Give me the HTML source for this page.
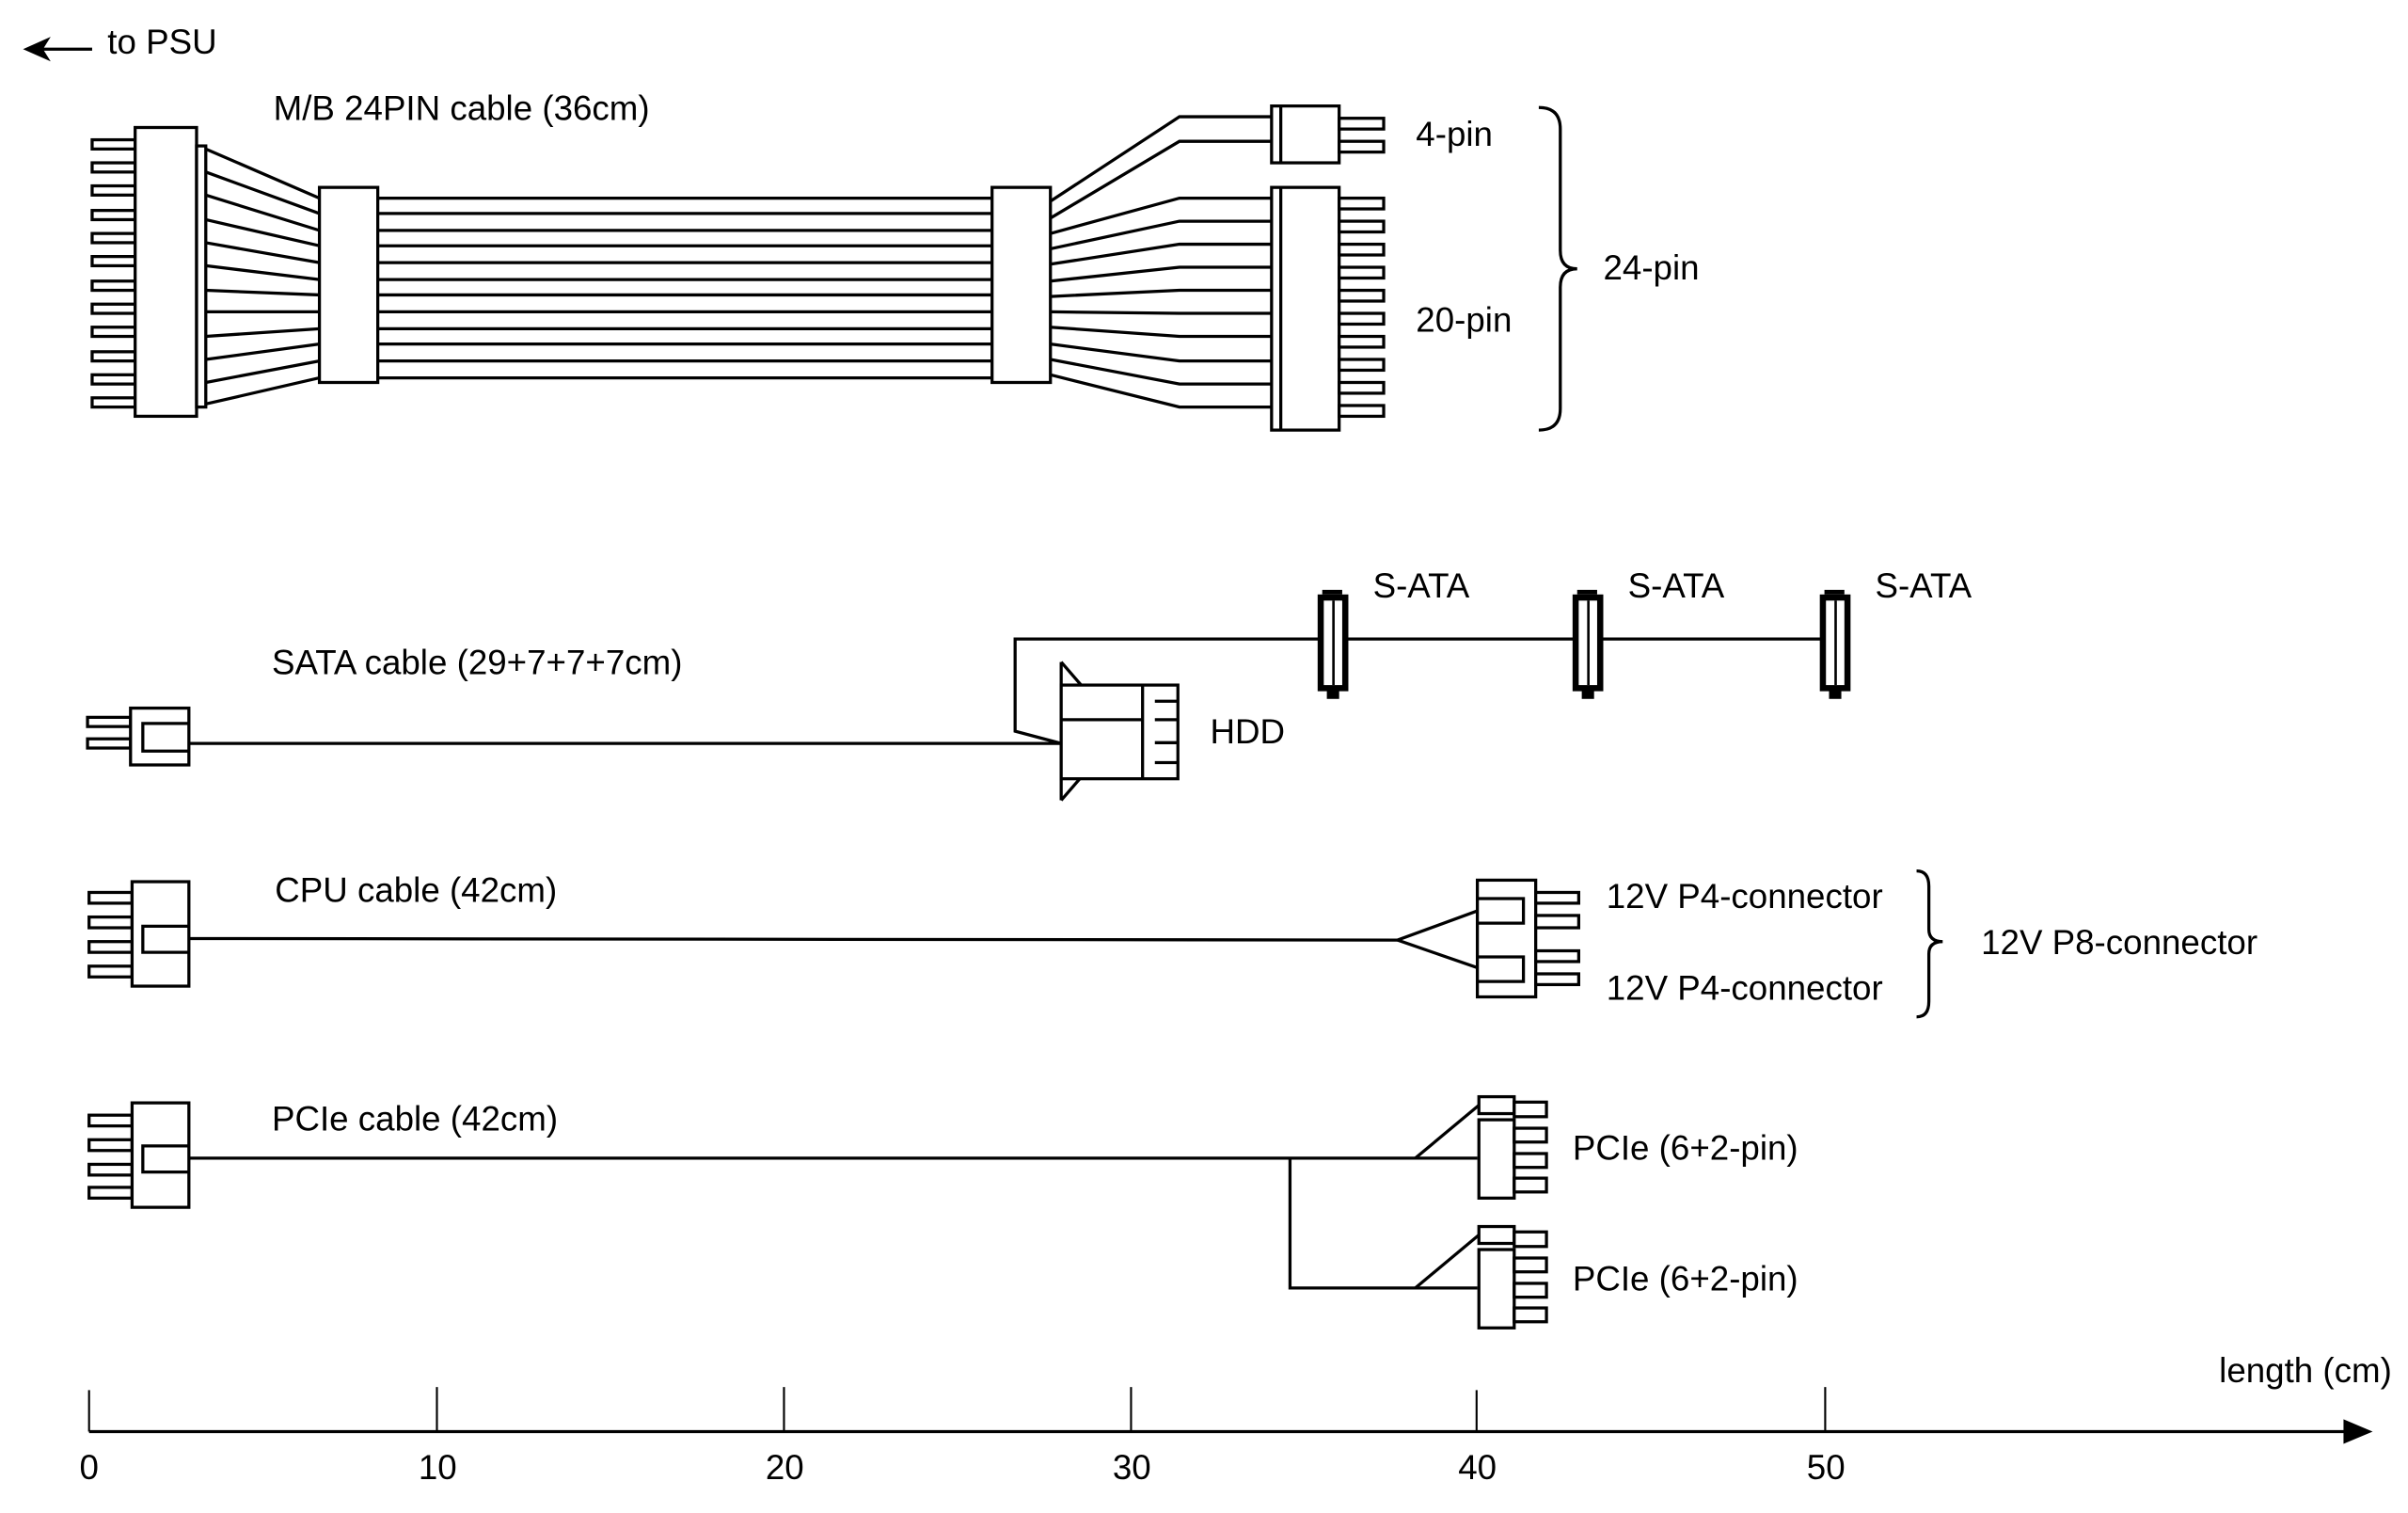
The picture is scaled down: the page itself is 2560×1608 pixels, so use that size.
<!DOCTYPE html>
<html><head><meta charset="utf-8"><style>
html,body{margin:0;padding:0;background:#fff;}
svg{display:block;}
text{font-family:"Liberation Sans",Arial,sans-serif;font-size:22.5px;fill:#000;}
</style></head><body>
<svg width="2560" height="1608" viewBox="0 0 1568 985" preserveAspectRatio="none" xmlns="http://www.w3.org/2000/svg">
<rect width="1568" height="985" fill="#fff"/>
<g stroke="#000" stroke-width="2" fill="#fff" stroke-linecap="butt">

<line x1="22" y1="32" x2="60" y2="32"/>
<polygon points="15,32 33,24 28,32 33,40" fill="#000" stroke="none"/>

<g id="pinsL">
<rect x="60" y="91" width="28" height="6"/><rect x="60" y="106" width="28" height="6"/><rect x="60" y="121" width="28" height="6"/><rect x="60" y="137" width="28" height="6"/><rect x="60" y="152" width="28" height="6"/><rect x="60" y="167" width="28" height="6"/><rect x="60" y="183" width="28" height="6"/><rect x="60" y="198" width="28" height="6"/><rect x="60" y="213" width="28" height="6"/><rect x="60" y="229" width="28" height="6"/><rect x="60" y="244" width="28" height="6"/><rect x="60" y="259" width="28" height="6"/>
</g>
<rect x="88" y="83" width="40" height="188"/>
<rect x="128" y="95" width="6" height="170"/>
<line x1="134" y1="97" x2="208" y2="129"/>
<line x1="134" y1="112" x2="208" y2="139"/>
<line x1="134" y1="127" x2="208" y2="150"/>
<line x1="134" y1="143" x2="208" y2="160"/>
<line x1="134" y1="158" x2="208" y2="171"/>
<line x1="134" y1="173" x2="208" y2="182"/>
<line x1="134" y1="189" x2="208" y2="192"/>
<line x1="134" y1="203" x2="208" y2="203"/>
<line x1="134" y1="219" x2="208" y2="214"/>
<line x1="134" y1="234" x2="208" y2="224"/>
<line x1="134" y1="249" x2="208" y2="235"/>
<line x1="134" y1="263" x2="208" y2="246"/>
<line x1="246" y1="129" x2="646" y2="129"/>
<line x1="246" y1="139" x2="646" y2="139"/>
<line x1="246" y1="150" x2="646" y2="150"/>
<line x1="246" y1="160" x2="646" y2="160"/>
<line x1="246" y1="171" x2="646" y2="171"/>
<line x1="246" y1="182" x2="646" y2="182"/>
<line x1="246" y1="192" x2="646" y2="192"/>
<line x1="246" y1="203" x2="646" y2="203"/>
<line x1="246" y1="214" x2="646" y2="214"/>
<line x1="246" y1="224" x2="646" y2="224"/>
<line x1="246" y1="235" x2="646" y2="235"/>
<line x1="246" y1="246" x2="646" y2="246"/>
<rect x="208" y="122" width="38" height="127"/>
<rect x="646" y="122" width="38" height="127"/>
<polyline fill="none" points="684,131 768,76 828,76"/>
<polyline fill="none" points="684,142 768,92 828,92"/>
<polyline fill="none" points="684,152 768,129 828,129"/>
<polyline fill="none" points="684,162 768,144 828,144"/>
<polyline fill="none" points="684,172 768,159 828,159"/>
<polyline fill="none" points="684,183 768,174 828,174"/>
<polyline fill="none" points="684,193 768,189 828,189"/>
<polyline fill="none" points="684,203 768,204 828,204"/>
<polyline fill="none" points="684,213 768,219 828,219"/>
<polyline fill="none" points="684,224 768,235 828,235"/>
<polyline fill="none" points="684,234 768,250 828,250"/>
<polyline fill="none" points="684,244 768,265 828,265"/>
<rect x="828" y="69" width="44" height="37"/>
<line x1="834" y1="69" x2="834" y2="106"/>
<rect x="872" y="77" width="29" height="7"/><rect x="872" y="92" width="29" height="7"/>
<rect x="828" y="122" width="44" height="158"/>
<line x1="834" y1="122" x2="834" y2="280"/>
<rect x="872" y="129" width="29" height="7"/><rect x="872" y="144" width="29" height="7"/><rect x="872" y="159" width="29" height="7"/><rect x="872" y="174" width="29" height="7"/><rect x="872" y="189" width="29" height="7"/><rect x="872" y="204" width="29" height="7"/><rect x="872" y="219" width="29" height="7"/><rect x="872" y="234" width="29" height="7"/><rect x="872" y="249" width="29" height="7"/><rect x="872" y="264" width="29" height="7"/>
<path fill="none" d="M1002,70 Q1016,70 1016,84 L1016,163 Q1016,175 1027,175 Q1016,175 1016,187 L1016,266 Q1016,280 1002,280"/>

<rect x="57" y="467" width="28" height="6"/><rect x="57" y="481" width="28" height="6"/>
<rect x="85" y="461" width="38" height="37"/>
<polyline fill="none" points="123,471 93,471 93,489 123,489"/>
<line x1="123" y1="484" x2="691" y2="484"/>
<polyline fill="none" points="691,484 661,476 661,416 1190,416"/>
<line x1="691" y1="431" x2="691" y2="521"/>
<polyline fill="none" points="691,431 704,446"/>
<polyline fill="none" points="691,521 704,506"/>
<rect x="691" y="446" width="76" height="61"/>
<line x1="744" y1="446" x2="744" y2="507"/>
<line x1="691" y1="468.5" x2="744" y2="468.5"/>
<line x1="752" y1="456.5" x2="767" y2="456.5"/>
<line x1="752" y1="468.5" x2="767" y2="468.5"/>
<line x1="752" y1="483.5" x2="767" y2="483.5"/>
<line x1="752" y1="496.5" x2="767" y2="496.5"/>
</g>

<g fill="#000" stroke="none">
<g id="sc1">
<rect x="861" y="384" width="13" height="3"/>
<rect x="858" y="387" width="20" height="63"/>
<rect x="864" y="449" width="8" height="6"/>
<rect x="862" y="391" width="12" height="55" fill="#fff"/>
<rect x="867.5" y="391" width="1.6" height="55"/>
</g>
<use href="#sc1" x="166"/>
<use href="#sc1" x="327"/>
</g>

<g stroke="#000" stroke-width="2" fill="#fff">
<rect x="58" y="581" width="28" height="7"/><rect x="58" y="597" width="28" height="7"/><rect x="58" y="613" width="28" height="7"/><rect x="58" y="629" width="28" height="7"/>
<rect x="86" y="574" width="37" height="68"/>
<polyline fill="none" points="123,603 93,603 93,620 123,620"/>
<line x1="123" y1="611" x2="910" y2="612"/>
<polyline fill="none" points="962,593 910,612 962,630"/>
<rect x="962" y="573" width="38" height="76"/>
<polyline fill="none" points="962,585 992,585 992,601 962,601"/>
<polyline fill="none" points="962,623 992,623 992,639 962,639"/>
<rect x="1000" y="581" width="28" height="7"/><rect x="1000" y="596" width="28" height="8"/><rect x="1000" y="619" width="28" height="7"/><rect x="1000" y="634" width="28" height="7"/>
<path fill="none" d="M1248,567 Q1256,567 1256,577 L1256,605 Q1256,613 1265,613 Q1256,613 1256,621 L1256,652 Q1256,662 1248,662"/>

<rect x="58" y="726" width="28" height="7"/><rect x="58" y="742" width="28" height="7"/><rect x="58" y="758" width="28" height="7"/><rect x="58" y="773" width="28" height="7"/>
<rect x="86" y="718" width="37" height="68"/>
<polyline fill="none" points="123,746 93,746 93,763 123,763"/>
<line x1="123" y1="754" x2="962" y2="754"/>
<polyline fill="none" points="840,754 840,838.5 962,838.5"/>
<g id="pc1">
<line x1="921.6" y1="754" x2="963" y2="719.5"/>
<rect x="963" y="714" width="23" height="11"/>
<rect x="963" y="729" width="23" height="51"/>
<rect x="986" y="717.5" width="21" height="9.5"/>
<rect x="986" y="734.5" width="21" height="9"/>
<rect x="986" y="751" width="21" height="9"/>
<rect x="986" y="767" width="21" height="9"/>
</g>
<use href="#pc1" y="84.5"/>

<line x1="58" y1="932" x2="1532" y2="932"/>
</g>
<polygon points="1526,924 1545,932 1526,940" fill="#000"/>
<g stroke="#000" stroke-width="1.3">
<line x1="58" y1="905" x2="58" y2="932"/>
<line x1="284.5" y1="903" x2="284.5" y2="932"/>
<line x1="510.5" y1="903" x2="510.5" y2="932"/>
<line x1="736.5" y1="903" x2="736.5" y2="932"/>
<line x1="961.5" y1="905" x2="961.5" y2="932"/>
<line x1="1188.5" y1="903" x2="1188.5" y2="932"/>
</g>

<text x="70" y="35">to PSU</text>
<text x="178" y="78">M/B 24PIN cable (36cm)</text>
<text x="922" y="95">4-pin</text>
<text x="922" y="216">20-pin</text>
<text x="1044" y="182">24-pin</text>
<text x="177" y="439">SATA cable (29+7+7+7cm)</text>
<text x="894" y="389">S-ATA</text>
<text x="1060" y="389">S-ATA</text>
<text x="1221" y="389">S-ATA</text>
<text x="788" y="484">HDD</text>
<text x="179" y="587">CPU cable (42cm)</text>
<text x="1046" y="591">12V P4-connector</text>
<text x="1046" y="651">12V P4-connector</text>
<text x="1290" y="621">12V P8-connector</text>
<text x="177" y="736">PCIe cable (42cm)</text>
<text x="1024" y="755">PCIe (6+2-pin)</text>
<text x="1024" y="840">PCIe (6+2-pin)</text>
<text x="1445" y="900">length (cm)</text>
<g text-anchor="middle">
<text x="58" y="963">0</text>
<text x="285" y="963">10</text>
<text x="511" y="963">20</text>
<text x="737" y="963">30</text>
<text x="962" y="963">40</text>
<text x="1189" y="963">50</text>
</g>
</svg>
</body></html>
